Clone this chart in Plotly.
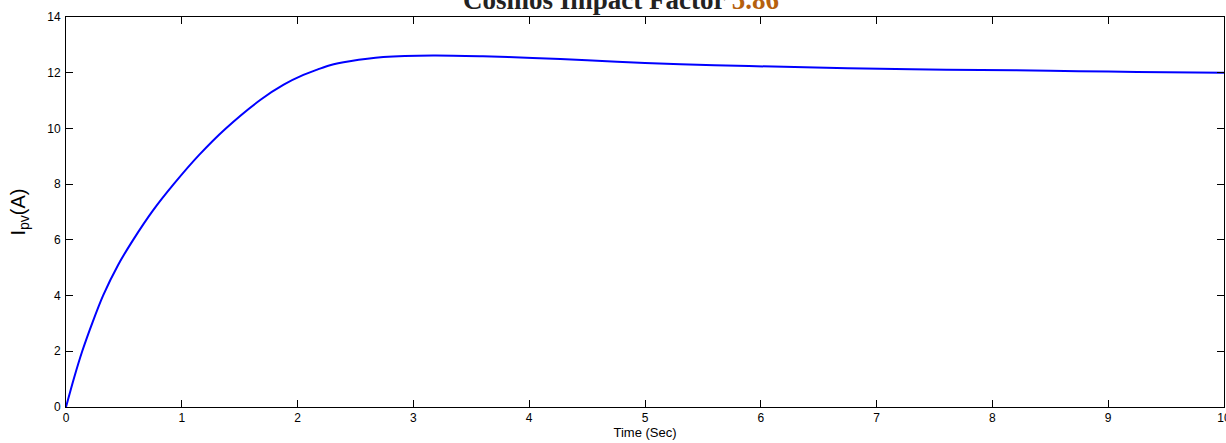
import plotly.graph_objects as go

time_s = [0, 0.07, 0.14, 0.23, 0.32, 0.45, 0.58, 0.75, 0.93, 1.15, 1.38, 1.68, 1.88,
          2.05, 2.17, 2.28, 2.45, 2.74, 3.17, 3.6, 4.03, 4.5, 5.0, 5.6, 6.2, 6.75,
          7.3, 7.9, 8.5, 9.0, 9.5, 10.0]
ipv = [0, 1.05, 2.0, 3.05, 4.0, 5.1, 6.0, 7.05, 8.0, 9.05, 10.0, 11.03, 11.57,
       11.92, 12.11, 12.27, 12.41, 12.56, 12.62, 12.59, 12.53, 12.45, 12.35, 12.27,
       12.21, 12.16, 12.12, 12.1, 12.07, 12.04, 12.02, 12.0]

x_ticks = list(range(0, 11))
y_ticks = list(range(0, 15, 2))

fig = go.Figure()
fig.add_trace(go.Scatter(x=time_s, y=ipv, mode="lines",
                         line=dict(color="#0000FF", width=2, shape="spline", smoothing=0.8),
                         showlegend=False, hoverinfo="skip"))

axis_common = dict(showline=True, linecolor="black", linewidth=1, mirror="ticks",
                   ticks="inside", ticklen=7, tickcolor="black", tickwidth=1,
                   showgrid=False, zeroline=False, automargin=False,
                   tickfont=dict(family="Liberation Sans, Arial", size=12, color="black"))

fig.update_xaxes(range=[0, 10], tickvals=x_ticks, ticktext=[str(v) for v in x_ticks],
                 title=dict(text="Time (Sec)", font=dict(family="Liberation Sans, Arial", size=13, color="black"), standoff=3),
                 ticklabelstandoff=0, ticklabeloverflow="allow", **axis_common)
fig.update_yaxes(range=[0, 14], tickvals=y_ticks, ticktext=[str(v) for v in y_ticks],
                 title=dict(text="I<sub>pv</sub>(A)", font=dict(family="Liberation Sans, Arial", size=20, color="black"), standoff=16),
                 ticklabelstandoff=2, ticklabeloverflow="allow", **axis_common)

fig.add_annotation(xref="paper", yref="paper", x=0.479, y=1.0, xanchor="center", yanchor="bottom",
                   showarrow=False,
                   text="<b>Cosmos Impact Factor <span style='color:#B5600E'>5.86</span></b>",
                   font=dict(family="Liberation Serif, Times New Roman", size=27, color="#222222"))

fig.update_layout(width=1226, height=443, margin=dict(l=66, r=2, t=17, b=36, autoexpand=False),
                  plot_bgcolor="white", paper_bgcolor="white")

fig.write_html("out.html", config={"displayModeBar": False},
               post_script="document.body.style.margin='0';document.body.style.overflow='hidden';")
